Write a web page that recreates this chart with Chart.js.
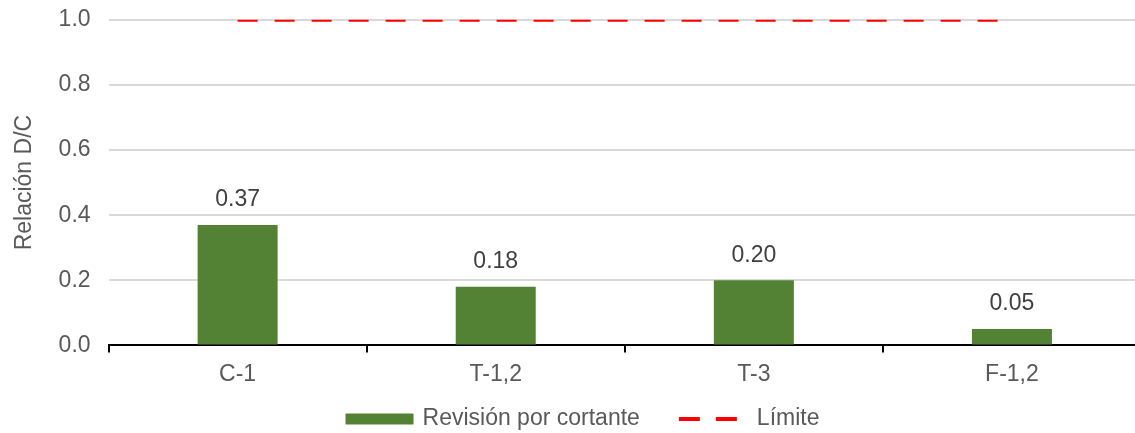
<!DOCTYPE html>
<html>
<head>
<meta charset="utf-8">
<script src="https://cdn.jsdelivr.net/npm/chart.js@4"></script>
<style>
  html, body { margin: 0; padding: 0; background: #fff; }
  #wrap { width: 1135px; height: 433px; position: relative; overflow: hidden; }
  #inner { width: 1141px; height: 445px; margin-top: -12px; position: relative; }
</style>
</head>
<body>
<div id="wrap"><div id="inner"><canvas id="myGraph"></canvas></div></div>
<script>
var categories = ["C-1", "T-1,2", "T-3", "F-1,2"];
var shearRatio = [0.37, 0.18, 0.20, 0.05];
var limitValues = [1.0, 1.0, 1.0, 1.0];
var yTicks = [0.0, 0.2, 0.4, 0.6, 0.8, 1.0];
var seriesNames = ["Revisión por cortante", "Límite"];

var barColor = "#548235";
var limitColor = "#ff0000";
var textColor = "#595959";
var fontFamily = "'Liberation Sans', Arial, Helvetica, sans-serif";

document.addEventListener("DOMContentLoaded", function(){
  makeChart();
});

function makeChart(){
  let target = document.getElementById("myGraph");

  // value labels over the bars (bars are dataset 1)
  let barLabels = {
    id: "barLabels",
    afterDatasetsDraw: function(chart){
      let ctx = chart.ctx;
      let meta = chart.getDatasetMeta(1);
      ctx.save();
      ctx.font = "23px " + fontFamily;
      ctx.fillStyle = "#404040";
      ctx.textAlign = "center";
      ctx.textBaseline = "middle";
      meta.data.forEach(function(bar, i){
        ctx.fillText(shearRatio[i].toFixed(2), bar.x, bar.y - 25);
      });
      ctx.restore();
    }
  };

  // legend drawn by hand: wide green box, dashed red line
  let bottomLegend = {
    id: "bottomLegend",
    afterDraw: function(chart){
      let ctx = chart.ctx;
      ctx.save();
      ctx.font = "23px " + fontFamily;
      let w1 = ctx.measureText(seriesNames[0]).width;
      let w2 = ctx.measureText(seriesNames[1]).width;
      let total = 68 + 9 + w1 + 39 + 58 + 20 + w2;
      let x = (1135 - total) / 2 + 15;
      let y = chart.height - 14;

      ctx.fillStyle = barColor;
      ctx.fillRect(x, y - 5.5, 68, 11);
      x += 68 + 9;
      ctx.fillStyle = textColor;
      ctx.textBaseline = "middle";
      ctx.textAlign = "left";
      ctx.fillText(seriesNames[0], x, y);
      x += w1 + 39;

      ctx.strokeStyle = limitColor;
      ctx.lineWidth = 4;
      ctx.setLineDash([21, 16]);
      ctx.beginPath();
      ctx.moveTo(x, y);
      ctx.lineTo(x + 58, y);
      ctx.stroke();
      ctx.setLineDash([]);
      x += 58 + 20;
      ctx.fillText(seriesNames[1], x, y);
      ctx.restore();
    }
  };

  new Chart(target, {
    type: "bar",
    data: {
      labels: categories,
      datasets: [{
        type: "line",
        label: seriesNames[1],
        data: limitValues,
        borderColor: limitColor,
        backgroundColor: limitColor,
        borderWidth: 4,
        borderDash: [20, 17],
        pointRadius: 0,
        fill: false,
        order: 0
      }, {
        label: seriesNames[0],
        data: shearRatio,
        backgroundColor: barColor,
        barPercentage: 0.31,
        categoryPercentage: 1,
        order: 1
      }]
    },
    options: {
      responsive: true,
      maintainAspectRatio: false,
      animation: false,
      layout: { padding: { top: 0, right: 0, left: 11, bottom: 37 } },
      plugins: {
        tooltip: { enabled: false },
        legend: { display: false }
      },
      scales: {
        x: {
          grid: {
            display: true,
            drawOnChartArea: false,
            drawTicks: true,
            tickLength: 7,
            color: "#000",
            lineWidth: 2,
            offset: true
          },
          border: { color: "#000", width: 2 },
          ticks: {
            color: textColor,
            font: { family: fontFamily, size: 23 },
            padding: 8
          }
        },
        y: {
          min: 0,
          max: 1,
          afterBuildTicks: function(axis){
            axis.ticks = yTicks.map(function(v){ return { value: v }; });
          },
          grid: { color: "#d9d9d9", lineWidth: 2, drawTicks: false },
          border: { display: false },
          ticks: {
            color: textColor,
            font: { family: fontFamily, size: 23 },
            padding: 18,
            callback: function(v){ return Number(v).toFixed(1); }
          },
          title: {
            display: true,
            text: "Relación D/C",
            color: textColor,
            font: { family: fontFamily, size: 23 },
            padding: { top: 0, bottom: 2 }
          }
        }
      }
    },
    plugins: [barLabels, bottomLegend]
  });
}
</script>
</body>
</html>
